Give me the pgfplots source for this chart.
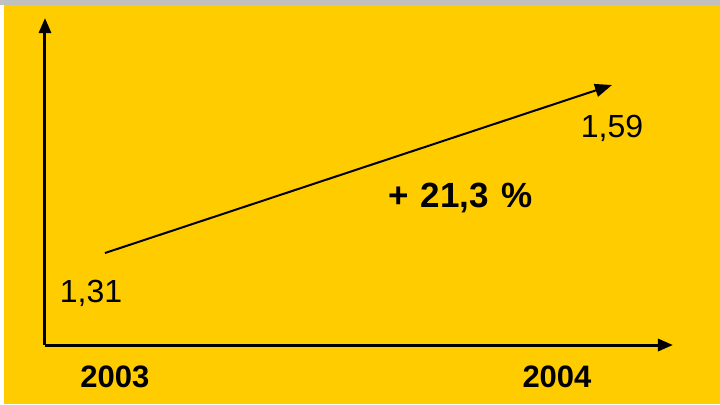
\documentclass[border=0pt]{standalone}
\usepackage{pgfplots}
\pgfplotsset{compat=1.18}
\usepackage{fontspec}
\setmainfont{Liberation Sans}
\usetikzlibrary{arrows.meta}
\definecolor{bgyellow}{HTML}{FFCC00}
\definecolor{topgray}{HTML}{C0C0C0}
\begin{document}
\begin{tikzpicture}
% 1px of the reference = 0.5pt, y downward
\useasboundingbox (0,0) rectangle (360pt,-202pt);
\fill[bgyellow] (0,0) rectangle (360pt,-202pt);
\fill[white] (0,0) rectangle (2pt,-202pt);
\fill[topgray] (0,0) rectangle (360pt,-2.5pt);
\begin{axis}[
  scale only axis,
  width=314pt, height=163.5pt,
  anchor=south west, at={(22.5pt,-172.5pt)},
  xmin=2002.8817, xmax=2004.1203,
  ymin=1.15667, ymax=1.70167,
  axis lines=left,
  axis line style={black, line width=1.5pt, -{Triangle[width=6pt,length=7.5pt]}},
  ytick=\empty,
  xtick={2003.0197,2003.8915},
  xticklabels={\textbf{2003},\textbf{2004}},
  major tick length=0pt,
  xticklabel style={anchor=base, yshift=-21pt, font=\fontsize{15.5}{18}\selectfont},
  clip=false,
]
  \addplot[black, line width=1pt, -{Triangle[width=6.5pt,length=8.5pt]}] coordinates {
    (2003,1.31)
    (2004,1.59)
  };
  \node[anchor=base, font=\fontsize{16}{19}\selectfont, xshift=-7pt, yshift=-24.5pt] at (axis cs:2003,1.31) {1,31};
  \node[anchor=base, font=\fontsize{16}{19}\selectfont, yshift=-26pt] at (axis cs:2004,1.59) {1,59};
  \node[anchor=base, font=\fontsize{17.5}{20}\selectfont\bfseries] at (rel axis cs:0.661,0.422) {+\hspace{0.35em}21,3\hspace{0.35em}\%};
\end{axis}
\end{tikzpicture}
\end{document}
